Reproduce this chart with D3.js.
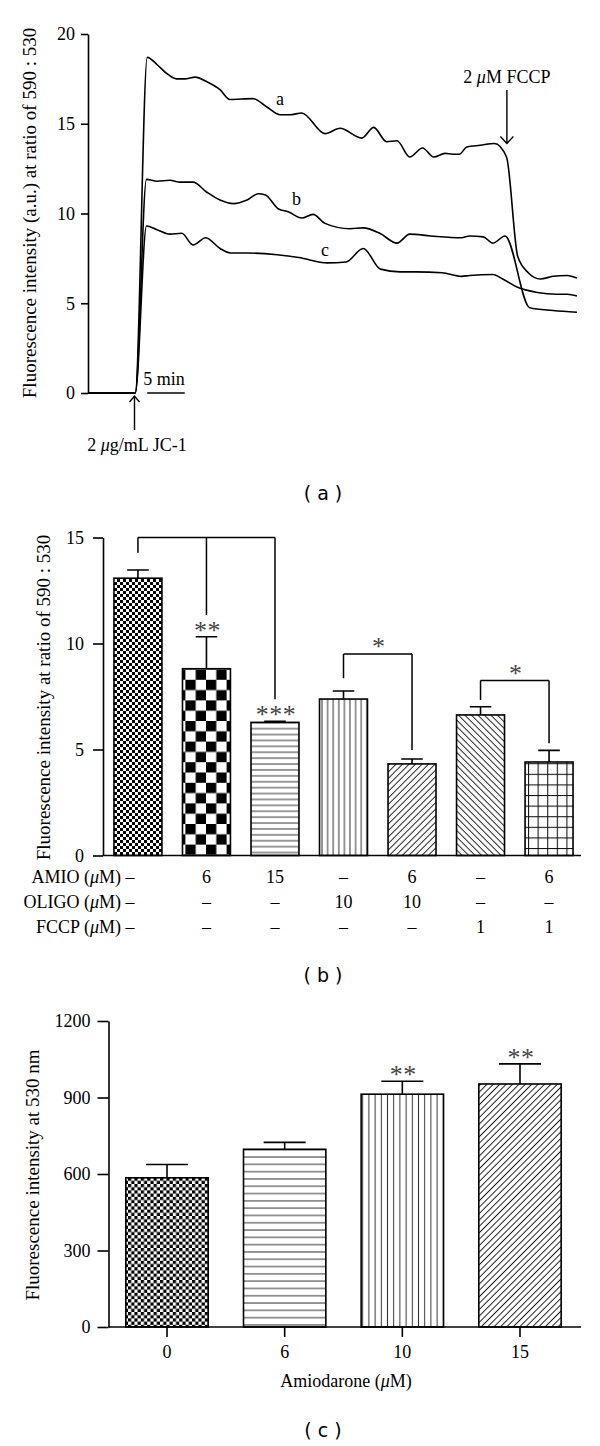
<!DOCTYPE html>
<html>
<head>
<meta charset="utf-8">
<script src="https://cdn.jsdelivr.net/npm/d3@7/dist/d3.min.js"></script>
<style>
html,body{margin:0;padding:0;background:#fff;}
svg{display:block;}
</style>
</head>
<body>
<svg id="fig" width="600" height="1446"></svg>
<script>
// ================= DATA =================
// Panel (a): JC-1 fluorescence ratio traces (time in minutes from start)
const traceATime  = [0,6.3,7.9,9.2,10.5,11.8,12.9,14.3,15.8,17.6,18.9,22.0,23.8,25.6,26.9,28.5,31.6,33.6,36.5,38.1,39.8,41.2,42.9,44.6,46.1,47.6,48.7,49.5,50.5,52.3,54.2,55.8,57.3,58.7,60.3,62.0,63.9,65.2];
const traceAValue = [0,0,18.7,18.3,17.8,17.5,17.5,17.6,17.35,16.9,16.35,16.4,15.95,15.5,15.5,15.6,14.45,14.75,14.2,14.8,14.0,14.05,13.15,13.65,13.15,13.35,13.3,13.3,13.7,13.8,13.9,13.15,7.6,6.7,6.35,6.5,6.55,6.4];
const traceBTime  = [0,6.3,7.8,9.2,10.9,12.3,14.0,15.8,17.6,19.4,21.2,22.7,23.6,25.4,26.7,28.5,30.0,31.6,34.9,36.7,38.9,41.2,42.9,45.7,49.8,50.9,52.7,54.0,55.6,58.9,62.0,65.2];
const traceBValue = [0,0,11.9,11.8,11.85,11.75,11.75,11.2,10.75,10.55,10.75,11.1,11.05,10.25,10.1,9.75,9.95,9.45,9.15,9.2,8.9,8.35,8.85,8.75,8.65,8.75,8.7,8.35,8.75,4.75,4.6,4.5];
const traceCTime  = [0,6.3,7.8,9.2,10.9,12.5,14.0,15.7,17.6,19.0,21.1,25.2,28.1,31.9,34.4,36.7,39.0,41.6,43.7,47.2,49.8,50.9,54.0,55.3,57.2,59.9,62.5,63.9,65.2];
const traceCValue = [0,0,9.3,9.1,8.85,8.9,8.25,8.65,8.05,7.8,7.8,7.7,7.55,7.25,7.3,8.05,6.9,6.75,6.75,6.7,6.5,6.55,6.6,6.35,5.9,5.6,5.5,5.5,5.4];
const traceNames  = ["a","b","c"];
const traceLabelTime  = [25.6, 27.8, 31.6];
const traceLabelValue = [16.36, 10.75, 7.91];
const aTicks = [0,5,10,15,20];
const jc1Time = 6.2, fccpTime = 55.85, scaleBarStart = 7.9, scaleBarMinutes = 5;

// Panel (b)
const bMean = [13.08, 8.81, 6.28, 7.38, 4.32, 6.63, 4.41];
const bSEM  = [0.39, 1.51, 0.05, 0.38, 0.23, 0.39, 0.55];
const bTicks = [0,5,10,15];
const rowNames = ["AMIO","OLIGO","FCCP"];
const rowAMIO  = ["–","6","15","–","6","–","6"];
const rowOLIGO = ["–","–","–","10","10","–","–"];
const rowFCCP  = ["–","–","–","–","–","1","1"];
const bBracketTop  = [15, 9.5, 8.25];
const bBracketLegs = [[[0,14.28],[1,11.34],[2,7.37]], [[3,8.36],[4,4.98]], [[5,7.33],[6,5.29]]];
const bBarStars = ["", "**", "***", "", "", "", ""];
const bBracketStars = ["", "*", "*"];

// Panel (c)
const cDose = ["0","6","10","15"];
const cMean = [585, 697, 913, 953];
const cSEM  = [52, 27, 51, 79];
const cStars = ["", "", "**", "**"];
const cTicks = [0,300,600,900,1200];

// ================= DRAWING =================
const SERIF = "'Liberation Serif','Times New Roman',serif";
const svg = d3.select("#fig");
const defs = svg.append("defs");

function pattern(id, w, h, draw, transform) {
  const p = defs.append("pattern").attr("id", id)
    .attr("patternUnits", "userSpaceOnUse").attr("width", w).attr("height", h);
  if (transform) p.attr("patternTransform", transform);
  p.append("rect").attr("width", w).attr("height", h).attr("fill", "#fff");
  draw(p, w, h);
}
function checker(id, c) {
  pattern(id, 2*c, 2*c, p => {
    p.append("rect").attr("x",0).attr("y",0).attr("width",c).attr("height",c).attr("fill","#000");
    p.append("rect").attr("x",c).attr("y",c).attr("width",c).attr("height",c).attr("fill","#000");
  });
}
function hlines(id, s) {
  pattern(id, 10, s, p => p.append("line").attr("x1",0).attr("x2",10).attr("y1",s/2).attr("y2",s/2)
    .attr("stroke","#333").attr("stroke-width",1));
}
function vlines(id, s) {
  pattern(id, s, 10, p => p.append("line").attr("y1",0).attr("y2",10).attr("x1",s/2).attr("x2",s/2)
    .attr("stroke","#333").attr("stroke-width",1));
}
function diag(id, d, angle) {
  const s = d / Math.SQRT2;
  pattern(id, 10, s, p => p.append("line").attr("x1",0).attr("x2",10).attr("y1",s/2).attr("y2",s/2)
    .attr("stroke","#222").attr("stroke-width",1), `rotate(${angle})`);
}
function grid(id, w, h) {
  pattern(id, w, h, p => {
    p.append("line").attr("x1",0.5).attr("x2",0.5).attr("y1",0).attr("y2",h).attr("stroke","#111").attr("stroke-width",1.1);
    p.append("line").attr("x1",0).attr("x2",w).attr("y1",0.5).attr("y2",0.5).attr("stroke","#111").attr("stroke-width",1.1);
  });
}
checker("chkS", 3);
checker("chkL", 10.3);
hlines("hlB", 5.9);
vlines("vlB", 5.6);
diag("dRB", 6.5, -45);
diag("dLB", 6.5, 45);
grid("grB", 9.6, 10.6);
checker("chkSC", 3.2);
hlines("hlC", 7.3);
vlines("vlC", 6.2);
diag("dRC", 6.4, -45);
const bFill = ["chkS","chkL","hlB","vlB","dRB","dLB","grB"];
const cFill = ["chkSC","hlC","vlC","dRC"];

function styleAxis(g, fs) {
  g.selectAll("path,line").attr("stroke","#000").attr("stroke-width",1.6);
  g.selectAll("text").attr("font-family", SERIF).attr("font-size", fs).attr("fill","#000");
  g.attr("font-family", SERIF);
}
function stars(g, x, yCenter, s) {
  if (!s) return;
  g.append("text").attr("x", x + 1).attr("y", yCenter + 12)
    .attr("text-anchor","middle").attr("font-family", SERIF).attr("font-size", 26)
    .attr("letter-spacing", 0.5)
    .attr("fill","#444").text(s);
}
function muText(sel, parts) {
  parts.forEach(([t, it]) => {
    const ts = sel.append("tspan").text(t);
    if (it) ts.attr("font-style","italic");
  });
}

// ---------- Panel (a) ----------
const ax = d3.scaleLinear().domain([0, 65.2]).range([88, 577]);
const ay = d3.scaleLinear().domain([0, 20]).range([393, 34]);
const gA = svg.append("g");
const yAxA = gA.append("g").attr("transform","translate(88,0)")
  .call(d3.axisLeft(ay).tickValues(aTicks).tickSize(7).tickPadding(6).tickSizeOuter(0));
styleAxis(yAxA, 18);

const traces = [[traceATime, traceAValue],[traceBTime, traceBValue],[traceCTime, traceCValue]];
const line = d3.line().x(d => ax(d[0])).y(d => ay(d[1])).curve(d3.curveMonotoneX);
traces.forEach(([t, v]) => {
  gA.append("path").attr("d", line(t.map((x,i)=>[x, v[i]])))
    .attr("fill","none").attr("stroke","#000").attr("stroke-width",1.6).attr("stroke-linejoin","round");
});
traceNames.forEach((n,i) => {
  gA.append("text").attr("x", ax(traceLabelTime[i])).attr("y", ay(traceLabelValue[i]))
    .attr("dy","0.3em").attr("text-anchor","middle").attr("font-family",SERIF).attr("font-size",18).text(n);
});
// JC-1 arrow
const jx = ax(jc1Time);
gA.append("path").attr("d", `M${jx},430V396M${jx-5},402L${jx},396L${jx+5},402`)
  .attr("fill","none").attr("stroke","#000").attr("stroke-width",1.4);
muText(gA.append("text").attr("x", jx+2.5).attr("y", 451).attr("text-anchor","middle")
  .attr("font-family",SERIF).attr("font-size",18), [["2 ",false],["μ",true],["g/mL JC-1",false]]);
// FCCP arrow
const fx = ax(fccpTime);
gA.append("path").attr("d", `M${fx},90V143.5M${fx-6.5},136.5L${fx},143.5L${fx+6.5},136.5`)
  .attr("fill","none").attr("stroke","#000").attr("stroke-width",1.4);
muText(gA.append("text").attr("x", fx).attr("y", 82.5).attr("text-anchor","middle")
  .attr("font-family",SERIF).attr("font-size",18), [["2 ",false],["μ",true],["M FCCP",false]]);
// scale bar
gA.append("line").attr("x1", ax(scaleBarStart)).attr("x2", ax(scaleBarStart+scaleBarMinutes))
  .attr("y1", ay(0)).attr("y2", ay(0)).attr("stroke","#000").attr("stroke-width",1.6);
gA.append("text").attr("x", (ax(scaleBarStart)+ax(scaleBarStart+scaleBarMinutes))/2 - 2).attr("y", 385)
  .attr("text-anchor","middle").attr("font-family",SERIF).attr("font-size",18).text(scaleBarMinutes + " min");
// y label
gA.append("text").attr("transform","translate(36,213) rotate(-90)").attr("text-anchor","middle")
  .attr("font-family",SERIF).attr("font-size",19).text("Fluorescence intensity (a.u.) at ratio of 590 : 530");
svg.append("text").attr("x",323).attr("y",499.5).attr("text-anchor","middle")
  .attr("font-family","'DejaVu Sans',sans-serif").attr("font-size",19).text("( a )");

// ---------- Panel (b) ----------
const bx = d3.scaleBand().domain(d3.range(bMean.length)).range([103, 584]).paddingInner(0.3).paddingOuter(0.16);
const by = d3.scaleLinear().domain([0, 15]).range([855.5, 537.5]);
const gB = svg.append("g");
const bw = bx.bandwidth();
const bc = i => bx(i) + bw/2;
gB.selectAll("rect.bar").data(bMean).join("rect").attr("class","bar")
  .attr("x",(d,i)=>bx(i)).attr("y",d=>by(d)).attr("width",bw).attr("height",d=>by(0)-by(d))
  .attr("fill",(d,i)=>`url(#${bFill[i]})`).attr("stroke","#000").attr("stroke-width",1.6);
bMean.forEach((m,i) => {
  const top = by(m + bSEM[i]), cap = bw*0.45;
  gB.append("path").attr("d", `M${bc(i)},${by(m)}V${top}M${bc(i)-cap/2},${top}H${bc(i)+cap/2}`)
    .attr("stroke","#000").attr("stroke-width",1.6).attr("fill","none");
  stars(gB, bc(i), top - 10, bBarStars[i]);
});
const yAxB = gB.append("g").attr("transform","translate(103,0)")
  .call(d3.axisLeft(by).tickValues(bTicks).tickSize(10).tickPadding(9).tickSizeOuter(0));
styleAxis(yAxB, 18);
gB.append("line").attr("x1",103).attr("x2",581).attr("y1",by(0)).attr("y2",by(0))
  .attr("stroke","#000").attr("stroke-width",1.6);
// brackets
bBracketLegs.forEach((legs, k) => {
  const yt = by(bBracketTop[k]);
  const x0 = bc(legs[0][0]), x1 = bc(legs[legs.length-1][0]);
  let d = `M${x0},${yt}H${x1}`;
  legs.forEach(([i, v]) => { d += `M${bc(i)},${yt}V${by(v)}`; });
  gB.append("path").attr("d", d).attr("stroke","#000").attr("stroke-width",1.5).attr("fill","none");
  stars(gB, (x0+x1)/2, yt - 11, bBracketStars[k]);
});
// condition rows
const rows = [rowAMIO, rowOLIGO, rowFCCP];
rows.forEach((r, k) => {
  const yb = 883 + k*25;
  muText(gB.append("text").attr("x", 134.5).attr("y", yb).attr("text-anchor","end")
    .attr("font-family",SERIF).attr("font-size",18),
    [[rowNames[k] + " (",false],["μ",true],["M) " + r[0],false]]);
  r.slice(1).forEach((s, j) => {
    gB.append("text").attr("x", bc(j+1)).attr("y", yb).attr("text-anchor","middle")
      .attr("font-family",SERIF).attr("font-size",18).text(s);
  });
});
gB.append("text").attr("transform","translate(50,697.5) rotate(-90)").attr("text-anchor","middle")
  .attr("font-family",SERIF).attr("font-size",19).text("Fluorescence intensity at ratio of 590 : 530");
svg.append("text").attr("x",323).attr("y",982).attr("text-anchor","middle")
  .attr("font-family","'DejaVu Sans',sans-serif").attr("font-size",19).text("( b )");

// ---------- Panel (c) ----------
const cx = d3.scaleBand().domain(cDose).range([109, 578]).paddingInner(0.3).paddingOuter(0.143);
const cy = d3.scaleLinear().domain([0, 1200]).range([1327, 1021]);
const gC = svg.append("g");
const cw = cx.bandwidth();
gC.selectAll("rect.bar").data(cMean).join("rect").attr("class","bar")
  .attr("x",(d,i)=>cx(cDose[i])).attr("y",d=>cy(d)).attr("width",cw).attr("height",d=>cy(0)-cy(d))
  .attr("fill",(d,i)=>`url(#${cFill[i]})`).attr("stroke","#000").attr("stroke-width",1.6);
cMean.forEach((m,i) => {
  const xc = cx(cDose[i]) + cw/2, top = cy(m + cSEM[i]), cap = cw*0.51;
  gC.append("path").attr("d", `M${xc},${cy(m)}V${top}M${xc-cap/2},${top}H${xc+cap/2}`)
    .attr("stroke","#000").attr("stroke-width",1.6).attr("fill","none");
  stars(gC, xc, top - 10, cStars[i]);
});
const yAxC = gC.append("g").attr("transform","translate(108.5,0)")
  .call(d3.axisLeft(cy).tickValues(cTicks).tickFormat(d3.format("d")).tickSize(11).tickPadding(7).tickSizeOuter(0));
styleAxis(yAxC, 18);
const xAxC = gC.append("g").attr("transform",`translate(0,${cy(0)})`)
  .call(d3.axisBottom(cx).tickSize(10).tickPadding(8).tickSizeOuter(0));
xAxC.select(".domain").remove();
styleAxis(xAxC, 18);
gC.append("line").attr("x1",108.5).attr("x2",581).attr("y1",cy(0)).attr("y2",cy(0))
  .attr("stroke","#000").attr("stroke-width",1.6);
muText(gC.append("text").attr("x",346).attr("y",1387).attr("text-anchor","middle")
  .attr("font-family",SERIF).attr("font-size",18), [["Amiodarone (",false],["μ",true],["M)",false]]);
gC.append("text").attr("transform","translate(38.5,1175) rotate(-90)").attr("text-anchor","middle")
  .attr("font-family",SERIF).attr("font-size",19).text("Fluorescence intensity at 530 nm");
svg.append("text").attr("x",323).attr("y",1436.5).attr("text-anchor","middle")
  .attr("font-family","'DejaVu Sans',sans-serif").attr("font-size",19).text("( c )");
</script>
</body>
</html>
